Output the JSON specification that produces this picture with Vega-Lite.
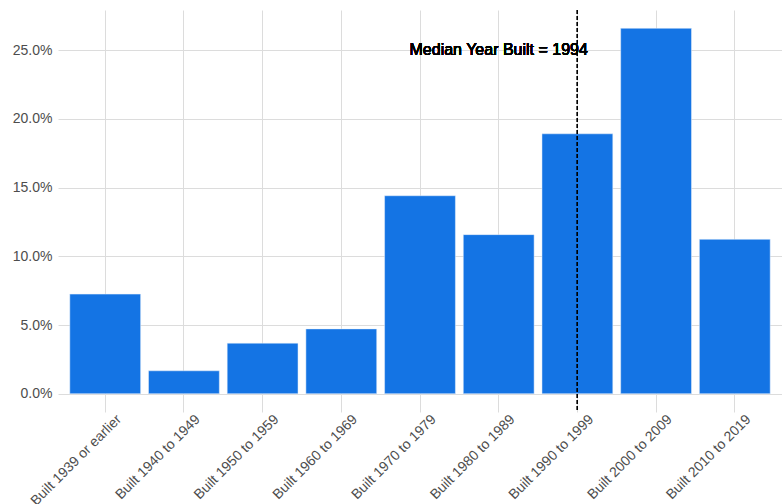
{
  "$schema": "https://vega.github.io/schema/vega-lite/v6.json",
  "width": 724,
  "height": 402,
  "autosize": "none",
  "padding": {"left": 58, "top": 10, "right": 0, "bottom": 92},
  "background": "white",
  "config": {
    "view": {"stroke": null},
    "font": "Liberation Sans",
    "axis": {
      "labelFont": "Liberation Sans",
      "labelFontSize": 14,
      "labelColor": "#4d4d4d",
      "gridColor": "#dcdcdc",
      "gridWidth": 1,
      "domain": false,
      "ticks": false,
      "title": null
    }
  },
  "data": {
    "values": [
      {"cat": "Built 1939 or earlier", "pct": 0.0725},
      {"cat": "Built 1940 to 1949", "pct": 0.0167},
      {"cat": "Built 1950 to 1959", "pct": 0.0368},
      {"cat": "Built 1960 to 1969", "pct": 0.0472},
      {"cat": "Built 1970 to 1979", "pct": 0.1441},
      {"cat": "Built 1980 to 1989", "pct": 0.1158},
      {"cat": "Built 1990 to 1999", "pct": 0.1892},
      {"cat": "Built 2000 to 2009", "pct": 0.2660},
      {"cat": "Built 2010 to 2019", "pct": 0.1124}
    ]
  },
  "layer": [
    {
      "mark": {"type": "bar", "color": "#1474e4", "stroke": "#e8f0fb", "strokeWidth": 0.5},
      "encoding": {
        "x": {
          "field": "cat",
          "type": "nominal",
          "sort": null,
          "scale": {"paddingInner": 0.1, "paddingOuter": 0.15},
          "axis": {"labelAngle": -45, "labelAlign": "right", "labelBaseline": "top", "labelPadding": 0, "labelOffset": 9, "grid": true, "bandPosition": 0.5}
        },
        "y": {
          "field": "pct",
          "type": "quantitative",
          "scale": {"domain": [-0.0133, 0.2793], "nice": false, "zero": false},
          "axis": {"values": [0, 0.05, 0.1, 0.15, 0.2, 0.25], "format": ".1%", "labelPadding": 6, "grid": true}
        },
        "y2": {"datum": 0}
      }
    },
    {
      "mark": {"type": "rule", "color": "black", "strokeDash": [4, 2], "strokeWidth": 1},
      "encoding": {"x": {"datum": "Built 1990 to 1999", "type": "nominal"}}
    },
    {
      "mark": {"type": "text", "fontSize": 16, "fontWeight": "normal", "color": "black", "font": "Liberation Sans", "baseline": "middle", "align": "center"},
      "encoding": {
        "x": {"datum": "Built 1980 to 1989", "type": "nominal"},
        "y": {"datum": 0.25, "type": "quantitative"},
        "text": {"value": "Median Year Built = 1994"}
      }
    }
  ]
}
